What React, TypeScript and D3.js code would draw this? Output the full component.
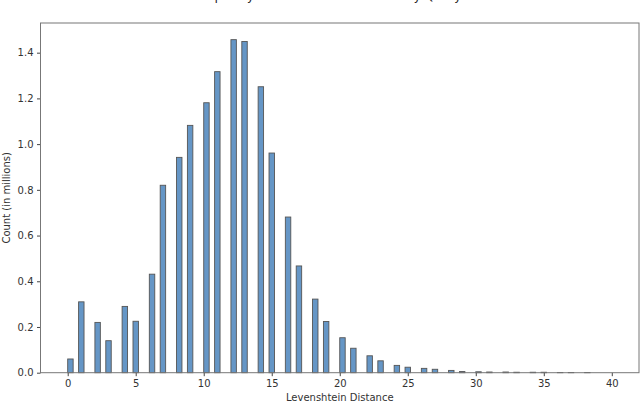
import React, { useEffect, useRef } from 'react';
import * as d3 from 'd3';

// Levenshtein distance -> count (in millions)
const distances = [
  0, 1, 2, 3, 4, 5, 6, 7, 8, 9, 10, 11, 12, 13, 14, 15, 16, 17, 18, 19,
  20, 21, 22, 23, 24, 25, 26, 27, 28, 29, 30, 31, 32, 33, 34, 35, 36, 37, 38,
];
const counts = [
  0.060, 0.310, 0.220, 0.140, 0.290, 0.225, 0.431, 0.820, 0.942, 1.082,
  1.181, 1.317, 1.457, 1.449, 1.251, 0.961, 0.681, 0.467, 0.322, 0.224,
  0.153, 0.107, 0.074, 0.052, 0.032, 0.024, 0.019, 0.015, 0.010, 0.005,
  0.004, 0.003, 0.003, 0.002, 0.002, 0.002, 0.001, 0.001, 0.001,
];
const xTicks = [0, 5, 10, 15, 20, 25, 30, 35, 40];
const yTicks = [0, 0.2, 0.4, 0.6, 0.8, 1.0, 1.2, 1.4];
const binRange = [0, 40];
const binCount = 100;

const width = 640;
const height = 404;
const margin = { top: 23, right: 1, bottom: 31.3, left: 40.5 };

const App: React.FC = () => {
  const ref = useRef<SVGSVGElement | null>(null);

  useEffect(() => {
    if (!ref.current) return;
    const svg = d3.select(ref.current);
    svg.selectAll('*').remove();

    const binWidth = (binRange[1] - binRange[0]) / binCount;
    const pad = (binRange[1] - binRange[0]) * 0.05;
    const x = d3.scaleLinear()
      .domain([binRange[0] - pad, binRange[1] + pad])
      .range([margin.left, width - margin.right]);
    const yMax = (d3.max(counts) ?? 1) * 1.05;
    const y = d3.scaleLinear()
      .domain([0, yMax])
      .range([height - margin.bottom, margin.top]);

    const data = distances.map((d, i) => {
      const bin = Math.floor(d / binWidth + 1e-9);
      return { d, v: counts[i], x0: binRange[0] + bin * binWidth };
    });

    const font = '"DejaVu Sans", sans-serif';

    // title (clipped above the frame, as in the source)
    svg.append('text')
      .attr('x', (margin.left + width - margin.right) / 2)
      .attr('y', 0)
      .attr('text-anchor', 'middle')
      .style('font-family', font)
      .style('font-size', '12px')
      .attr('fill', '#222')
      .text('Frequency of Levenshtein Distance by Query Pair');

    svg.append('g')
      .selectAll('rect')
      .data(data)
      .join('rect')
      .attr('x', d => x(d.x0))
      .attr('width', x(binWidth) - x(0))
      .attr('y', d => y(d.v))
      .attr('height', d => y(0) - y(d.v))
      .attr('fill', '#6596c6')
      .attr('stroke', '#555')
      .attr('stroke-width', 0.9);

    const xAxis = svg.append('g')
      .attr('transform', `translate(0,${height - margin.bottom})`)
      .call(d3.axisBottom(x).tickValues(xTicks).tickSize(3.5).tickPadding(3.5).tickFormat(d3.format('d')));
    const yAxis = svg.append('g')
      .attr('transform', `translate(${margin.left},0)`)
      .call(d3.axisLeft(y).tickValues(yTicks).tickSize(3.5).tickPadding(3.5).tickFormat(d3.format('.1f')));

    [xAxis, yAxis].forEach(g => {
      g.select('.domain').remove();
      g.selectAll('line').attr('stroke', '#444');
      g.selectAll('text')
        .style('font-family', font)
        .style('font-size', '10px')
        .attr('fill', '#333');
    });

    // frame
    svg.append('rect')
      .attr('x', margin.left)
      .attr('y', margin.top)
      .attr('width', width - margin.left - margin.right)
      .attr('height', height - margin.top - margin.bottom)
      .attr('fill', 'none')
      .attr('stroke', '#777')
      .attr('stroke-width', 1);

    svg.append('text')
      .attr('x', (margin.left + width - margin.right) / 2)
      .attr('y', height - 3)
      .attr('text-anchor', 'middle')
      .style('font-family', font)
      .style('font-size', '10px')
      .attr('fill', '#333')
      .text('Levenshtein Distance');

    svg.append('text')
      .attr('transform', `translate(10,${(margin.top + height - margin.bottom) / 2}) rotate(-90)`)
      .attr('text-anchor', 'middle')
      .style('font-family', font)
      .style('font-size', '10px')
      .attr('fill', '#333')
      .text('Count (in millions)');
  }, []);

  return (
    <svg
      ref={ref}
      width={width}
      height={height}
      style={{ position: 'absolute', left: 0, top: 0, background: '#fff' }}
    />
  );
};

export default App;
